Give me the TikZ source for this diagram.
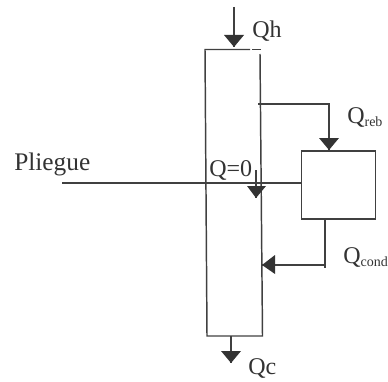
\documentclass[tikz,border=0pt]{standalone}
\usepackage{fontspec}
\setmainfont{Liberation Serif}
\tikzset{
  ln/.style={draw=black!75,line width=1.1pt},
  hd/.style={fill=black!80,draw=none},
  lab/.style={inner sep=0pt,anchor=base west,text=black!80,font=\fontsize{18}{20}\selectfont},
}
\newcommand{\subt}[1]{\raisebox{-2.5pt}{\fontsize{10.5}{12}\selectfont #1}}
\begin{document}
\begin{tikzpicture}[x=0.75pt,y=-0.75pt]
\useasboundingbox (0,0) rectangle (388,381);
% column
\coordinate (tl) at (205,49.5);
\coordinate (tg1) at (250,49.5);
\coordinate (tg2) at (252,49.5);
\coordinate (tr) at (261,49.5);
\coordinate (rt) at (260,54);
\coordinate (rb) at (262.5,336);
\coordinate (lb) at (207,336);
\draw[ln] (tg1) -- (tl) -- (lb) -- (rb) -- (rt);
\draw[ln] (tg2) -- (tr);
% box
\node[draw=black!75,line width=1.1pt,minimum width=55.5pt,minimum height=51pt,inner sep=0pt] (box) at (338.5,185) {};
% feed
\coordinate (feed) at (62,183);
\coordinate (boxin) at (box.west |- feed);
\draw[ln] (feed) -- (boxin);
% Qh
\coordinate (qhs) at (234,7);
\coordinate (qht) at (234,47);
\draw[ln] (qhs) -- (qht);
\draw[hd] (224,35) -- (244,35) -- (qht) -- cycle;
% Qreb
\coordinate (rebs) at (258,104);
\coordinate (rebc) at (329,104);
\coordinate (rebt) at (329,150);
\draw[ln] (rebs) -- (rebc) -- (rebt);
\draw[hd] (319,138) -- (339,138) -- (rebt) -- cycle;
% Middle
\coordinate (ms) at (256,170);
\coordinate (mt) at (256,198);
\draw[ln,line width=.8pt] (ms) -- (mt);
\draw[hd] (247,186) -- (266,186) -- (mt) -- cycle;
% Qcond
\coordinate (cs) at (325,219);
\coordinate (ce) at (325,268);
\coordinate (cc) at (325,265);
\coordinate (ct) at (262,265);
\draw[ln] (cs) -- (ce);
\draw[ln] (cc) -- (ct);
\draw[hd] (275,255) -- (275,274) -- (ct) -- cycle;
% Qc
\coordinate (qcs) at (231,336);
\coordinate (qct) at (231,363);
\draw[ln] (qcs) -- (qct);
\draw[hd] (221,351) -- (241,351) -- (qct) -- cycle;
% labels
\node[lab] (t1) at (252,38) {Qh};
\node[lab] (t2) at (347,123) {Q\subt{reb}};
\node[lab,font=\fontsize{19}{21}\selectfont] (t3) at (14,170) {Pliegue};
\node[lab] (t4) at (209,176) {Q=0};
\node[lab] (t5) at (343,263) {Q\subt{cond}};
\node[lab] (t6) at (248,374.5) {Qc};
\end{tikzpicture}
\end{document}
